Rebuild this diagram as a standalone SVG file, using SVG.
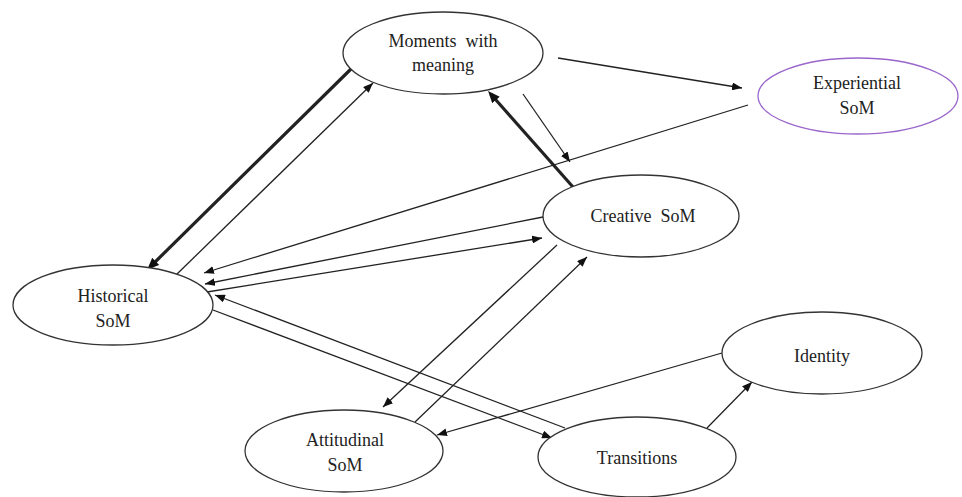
<svg xmlns="http://www.w3.org/2000/svg" width="962" height="497" viewBox="0 0 962 497">
<style>
.node ellipse{fill:#ffffff;stroke:#333333;stroke-width:1.3}
.node text{font-family:"Liberation Serif","Times New Roman",serif;font-size:18px;fill:#222222;text-anchor:middle;white-space:pre}
.edge{stroke:#222222;stroke-width:1.3;fill:none}
.thick{stroke-width:3.2}
</style>
<defs>
<marker id="ah" viewBox="0 0 10 8" refX="10" refY="4" markerWidth="10" markerHeight="8" markerUnits="userSpaceOnUse" orient="auto">
<path d="M0,0 L10,4 L0,8 z" fill="#111111"/>
</marker>
<marker id="ahb" viewBox="0 0 12 10" refX="8" refY="5" markerWidth="12" markerHeight="10" markerUnits="userSpaceOnUse" orient="auto">
<path d="M0,0 L12,5 L0,10 z" fill="#111111"/>
</marker>
</defs>
<rect width="962" height="497" fill="#ffffff"/>
<g id="connectors">
<line class="edge" x1="558" y1="58" x2="742" y2="88" marker-end="url(#ah)"/>
<line class="edge" x1="748" y1="105" x2="204" y2="273" marker-end="url(#ah)"/>
<line class="edge" x1="543" y1="217" x2="205" y2="284" marker-end="url(#ah)"/>
<line class="edge" x1="207" y1="292" x2="542" y2="238" marker-end="url(#ah)"/>
<line class="edge" x1="565" y1="428" x2="215" y2="295" marker-end="url(#ah)"/>
<line class="edge" x1="213" y1="310" x2="552" y2="438" marker-end="url(#ah)"/>
<line class="edge" x1="176" y1="275" x2="373" y2="83" marker-end="url(#ah)"/>
<line class="edge thick" x1="352" y1="68" x2="150" y2="267" marker-end="url(#ahb)"/>
<line class="edge thick" x1="573" y1="187" x2="490.7" y2="94" marker-end="url(#ahb)"/>
<line class="edge" x1="523" y1="94" x2="570" y2="162" marker-end="url(#ah)"/>
<line class="edge" x1="557" y1="245" x2="383" y2="407" marker-end="url(#ah)"/>
<line class="edge" x1="415" y1="422" x2="587" y2="257" marker-end="url(#ah)"/>
<line class="edge" x1="722" y1="353" x2="437" y2="435" marker-end="url(#ah)"/>
<line class="edge" x1="707" y1="428" x2="752" y2="382" marker-end="url(#ah)"/>
</g>
<g id="moments" class="node">
<ellipse cx="443" cy="53" rx="100" ry="41"/>
<text x="443" y="47">Moments  with</text>
<text x="443" y="71">meaning</text>
</g>
<g id="experiential" class="node">
<ellipse cx="858" cy="96" rx="100" ry="38" style="stroke:#9a66cc"/>
<text x="857" y="89">Experiential</text>
<text x="857" y="114">SoM</text>
</g>
<g id="creative" class="node">
<ellipse cx="641" cy="216" rx="98" ry="41"/>
<text x="643" y="222">Creative  SoM</text>
</g>
<g id="historical" class="node">
<ellipse cx="113" cy="305" rx="100" ry="40"/>
<text x="113" y="302">Historical</text>
<text x="113" y="327">SoM</text>
</g>
<g id="identity" class="node">
<ellipse cx="822" cy="353" rx="100" ry="41"/>
<text x="822" y="362">Identity</text>
</g>
<g id="attitudinal" class="node">
<ellipse cx="344" cy="451" rx="99" ry="41"/>
<text x="345" y="446">Attitudinal</text>
<text x="345" y="471">SoM</text>
</g>
<g id="transitions" class="node">
<ellipse cx="637" cy="457" rx="99" ry="40"/>
<text x="637" y="464">Transitions</text>
</g>
</svg>
